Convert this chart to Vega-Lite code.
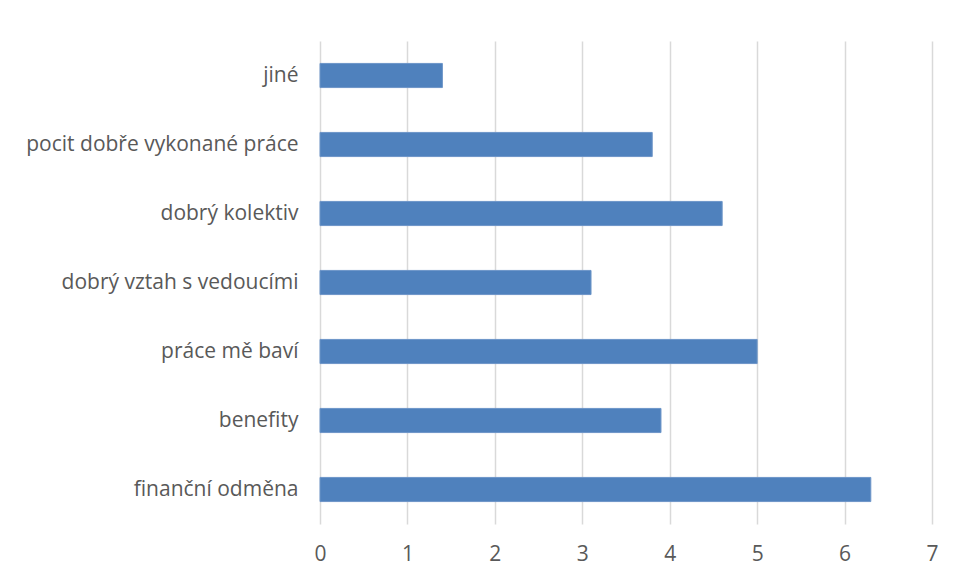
{
  "$schema": "https://vega.github.io/schema/vega-lite/v6.json",
  "autosize": "none",
  "width": 612,
  "height": 483,
  "padding": {"left": 320, "top": 41, "right": 24, "bottom": 56},
  "background": "white",
  "config": {"view": {"stroke": null}},
  "data": {"values": [
    {"kategorie": "jiné", "hodnota": 1.4},
    {"kategorie": "pocit dobře vykonané práce", "hodnota": 3.8},
    {"kategorie": "dobrý kolektiv", "hodnota": 4.6},
    {"kategorie": "dobrý vztah s vedoucími", "hodnota": 3.1},
    {"kategorie": "práce mě baví", "hodnota": 5.0},
    {"kategorie": "benefity", "hodnota": 3.9},
    {"kategorie": "finanční odměna", "hodnota": 6.3}
  ]},
  "mark": {"type": "bar", "color": "#4f81bd", "stroke": "#6d95c8", "strokeWidth": 1},
  "encoding": {
    "y": {
      "field": "kategorie", "type": "nominal", "sort": null,
      "scale": {"paddingInner": 0.65, "paddingOuter": 0.325},
      "axis": {"title": null, "ticks": false, "domain": false, "labelPadding": 22, "labelLimit": 400,
               "labelFont": "Open Sans", "labelFontSize": 21, "labelColor": "#595959", "grid": false}
    },
    "x": {
      "field": "hodnota", "type": "quantitative",
      "scale": {"domain": [0, 7], "nice": false},
      "axis": {"title": null, "values": [0,1,2,3,4,5,6,7], "ticks": false, "domain": false, "labelOverlap": false,
               "labelPadding": 19, "labelFont": "Open Sans", "labelFontSize": 21, "labelColor": "#595959",
               "gridColor": "#d9d9d9", "gridWidth": 1.5, "labelFlush": false}
    }
  }
}
